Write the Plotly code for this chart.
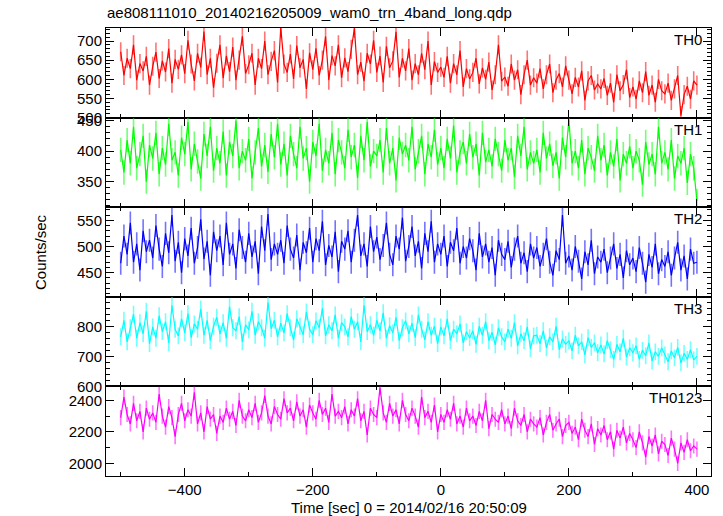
import plotly.graph_objects as go
from plotly.subplots import make_subplots

# time bins (s), 5 s spacing from -500 to 400
time_sec = list(range(-500, 401, 5))

th0 = [672, 610, 655, 628, 690, 598, 641, 622, 660, 585,
       634, 671, 602, 648, 619, 680, 590, 652, 626, 664,
       615, 702, 640, 596, 668, 631, 725, 612, 655, 578,
       642, 690, 603, 661, 620, 684, 598, 650, 712, 615,
       638, 668, 585, 655, 628, 700, 612, 647, 675, 592,
       735, 640, 618, 666, 601, 688, 630, 652, 575, 669,
       625, 681, 610, 650, 712, 598, 662, 635, 690, 604,
       656, 620, 678, 733, 612, 645, 595, 668, 640, 702,
       618, 661, 592, 686, 630, 648, 724, 605, 655, 622,
       680, 598, 641, 612, 668, 625, 700, 585, 646, 618,
       632, 605, 660, 590, 641, 612, 675, 580, 628, 601,
       618, 655, 588, 630, 600, 645, 572, 612, 690, 595,
       606, 582, 640, 598, 625, 560, 612, 650, 585, 604,
       590, 628, 575, 612, 640, 565, 598, 615, 580, 635,
       598, 562, 605, 580, 622, 545, 596, 610, 572, 588,
       575, 602, 558, 590, 540, 612, 570, 586, 625, 552,
       580, 548, 596, 565, 620, 558, 585, 540, 600, 570,
       562, 590, 545, 575, 610, 505, 560, 582, 548, 596,
       585]

th1 = [402, 365, 418, 380, 440, 372, 395, 425, 350, 410,
       388, 430, 362, 405, 378, 445, 385, 398, 360, 422,
       395, 448, 370, 412, 383, 355, 428, 392, 440, 368,
       405, 380, 432, 360, 415, 392, 450, 372, 400, 385,
       420, 355, 398, 438, 375, 410, 366, 428, 390, 445,
       378, 412, 360, 425, 395, 372, 440, 388, 405, 350,
       415, 392, 445, 368, 402, 380, 430, 362, 418, 398,
       372, 435, 390, 410, 356, 425, 385, 448, 375, 400,
       392, 418, 365, 438, 380, 405, 352, 422, 395, 410,
       385, 440, 370, 400, 425, 362, 412, 390, 435, 378,
       405, 372, 420, 388, 442, 365, 398, 415, 380, 428,
       390, 412, 360, 430, 382, 402, 375, 420, 395, 368,
       418, 385, 405, 358, 425, 392, 440, 370, 398, 380,
       402, 365, 430, 388, 412, 376, 398, 355, 422, 390,
       452, 380, 400, 372, 418, 362, 405, 390, 368, 425,
       385, 410, 360, 398, 375, 420, 352, 395, 380, 408,
       372, 400, 385, 345, 415, 378, 395, 362, 440, 380,
       398, 370, 418, 355, 392, 380, 405, 348, 395, 372,
       318]

th2 = [468, 520, 485, 545, 470, 505, 455, 530, 490, 512,
       478, 540, 495, 462, 525, 488, 560, 472, 508, 450,
       515, 482, 535, 468, 498, 552, 476, 510, 445, 528,
       492, 520, 465, 545, 485, 505, 458, 532, 498, 470,
       525, 480, 510, 448, 538, 492, 562, 475, 505, 485,
       512, 468, 540, 495, 478, 522, 455, 508, 488, 535,
       470, 515, 492, 548, 465, 502, 480, 528, 452, 510,
       495, 530, 470, 512, 560, 482, 505, 462, 538, 490,
       518, 475, 502, 545, 485, 465, 520, 495, 555, 472,
       500, 538, 482, 510, 458, 525, 490, 548, 470, 505,
       485, 520, 462, 508, 492, 535, 468, 500, 478, 515,
       492, 455, 525, 480, 505, 470, 498, 445, 512, 485,
       475, 510, 460, 495, 520, 468, 488, 452, 505, 478,
       498, 462, 485, 515, 470, 445, 492, 475, 560, 468,
       482, 455, 500, 472, 438, 490, 465, 512, 448, 480,
       470, 495, 450, 478, 505, 458, 485, 440, 492, 465,
       478, 452, 498, 468, 432, 485, 460, 505, 448, 475,
       462, 490, 445, 478, 508, 455, 482, 438, 495, 468,
       470]

th3 = [765, 820, 748, 795, 840, 760, 812, 775, 850, 742,
       798, 760, 835, 782, 815, 745, 870, 790, 768, 825,
       778, 842, 762, 808, 790, 858, 770, 820, 752, 800,
       830, 775, 812, 760, 865, 795, 785, 832, 748, 805,
       788, 850, 770, 815, 795, 760, 880, 792, 820, 765,
       810, 778, 842, 795, 755, 825, 800, 772, 848, 790,
       772, 818, 795, 860, 768, 805, 785, 838, 760, 812,
       798, 765, 832, 790, 815, 748, 870, 782, 805, 770,
       820, 785, 845, 760, 802, 778, 830, 752, 795, 818,
       775, 810, 762, 838, 790, 755, 815, 770, 800, 742,
       798, 768, 825, 752, 790, 775, 808, 745, 782, 762,
       785, 740, 800, 770, 815, 752, 780, 738, 795, 765,
       748, 790, 760, 812, 735, 775, 752, 798, 725, 768,
       770, 742, 785, 728, 765, 748, 800, 722, 758, 740,
       752, 718, 770, 735, 748, 705, 762, 730, 745, 712,
       738, 708, 752, 722, 690, 740, 715, 760, 698, 728,
       712, 735, 690, 720, 702, 745, 685, 715, 700, 728,
       705, 682, 718, 695, 730, 678, 710, 690, 722, 688,
       700]

th0123 = [2290, 2420, 2310, 2250, 2380, 2270, 2330, 2200, 2350, 2280,
          2320, 2260, 2440, 2300, 2230, 2360, 2290, 2170, 2310, 2380,
          2270, 2340, 2300, 2450, 2250, 2320, 2200, 2360, 2280, 2310,
          2190, 2300, 2260, 2350, 2280, 2330, 2240, 2400, 2300, 2270,
          2340, 2290, 2380, 2260, 2320, 2430, 2300, 2250, 2360, 2310,
          2280, 2410, 2320, 2350, 2270, 2390, 2300, 2340, 2230, 2370,
          2320, 2280, 2400, 2310, 2350, 2260, 2440, 2300, 2330, 2290,
          2360, 2250, 2340, 2300, 2410, 2270, 2330, 2180, 2350, 2310,
          2290, 2480, 2320, 2260, 2380, 2300, 2340, 2250, 2400, 2310,
          2270, 2350, 2300, 2230, 2420, 2290, 2330, 2260, 2370, 2200,
          2310, 2260, 2340, 2280, 2380, 2250, 2300, 2230, 2350, 2270,
          2300, 2240, 2330, 2270, 2400, 2220, 2310, 2280, 2260, 2340,
          2250, 2300, 2220, 2350, 2270, 2240, 2310, 2200, 2280, 2250,
          2230, 2290, 2180, 2260, 2310, 2210, 2250, 2280, 2170, 2240,
          2260, 2190, 2230, 2150, 2280, 2210, 2170, 2250, 2120, 2220,
          2180, 2240, 2150, 2200, 2090, 2210, 2160, 2230, 2130, 2190,
          2150, 2100, 2200, 2130, 2040, 2170, 2110, 2180, 2060, 2140,
          2120, 2050, 2160, 2090, 2000, 2130, 2070, 2150, 2080, 2110,
          2090]

band_names = ["TH0", "TH1", "TH2", "TH3", "TH0123"]
band_values = [th0, th1, th2, th3, th0123]
band_errors = [25, 20, 22, 28, 48]
band_colors = ["#ff0000", "#00ff00", "#0000ff", "#00ffff", "#ff00ff"]
band_err_colors = ["rgba(255,0,0,0.55)", "rgba(0,255,0,0.55)", "rgba(0,0,255,0.55)",
                   "rgba(0,255,255,0.55)", "rgba(255,0,255,0.55)"]
y_ranges = [[500, 734], [308, 455], [404, 575], [600, 898], [1920, 2488]]
y_dticks = [50, 50, 50, 100, 200]
y_minor = [10, 10, 10, 20, 100]
x_tickvals = [-400, -200, 0, 200, 400]

fig = make_subplots(rows=5, cols=1, shared_xaxes=True, vertical_spacing=0)

for i in range(5):
    fig.add_trace(go.Scatter(
        x=time_sec, y=band_values[i], mode="lines",
        line=dict(color=band_colors[i], width=1.2),
        error_y=dict(type="constant", value=band_errors[i], color=band_err_colors[i],
                     thickness=1.6, width=0),
        showlegend=False, hoverinfo="skip"), row=i + 1, col=1)

font_family = "Liberation Sans, Arial, Helvetica, sans-serif"
for i in range(5):
    fig.update_yaxes(row=i + 1, col=1, range=y_ranges[i], dtick=y_dticks[i],
                     ticks="inside", ticklen=8, tickcolor="black", tickwidth=1,
                     showline=True, linecolor="black", linewidth=1, mirror="ticks",
                     showgrid=False, zeroline=False,
                     tickfont=dict(size=15, color="black", family=font_family),
                     minor=dict(dtick=y_minor[i], ticks="inside", ticklen=4,
                                tickcolor="black", showgrid=False))
    fig.update_xaxes(row=i + 1, col=1, range=[-523, 422], tickvals=x_tickvals,
                     ticks="inside", ticklen=8, tickcolor="black", tickwidth=1,
                     showline=True, linecolor="black", linewidth=1, mirror="ticks",
                     showgrid=False, zeroline=False, showticklabels=(i == 4),
                     tickfont=dict(size=15, color="black", family=font_family),
                     minor=dict(dtick=100, ticks="inside", ticklen=4,
                                tickcolor="black", showgrid=False))

for i in range(5):
    top = 1 - 0.2 * i
    fig.add_annotation(text=band_names[i], xref="paper", yref="paper", x=1, y=top,
                       xanchor="right", yanchor="top", xshift=-7, yshift=-1, showarrow=False,
                       font=dict(size=15, color="black", family=font_family))

fig.add_annotation(text="ae808111010_20140216205009_wam0_trn_4band_long.qdp",
                   xref="paper", yref="paper", x=0, y=1, xanchor="left", yanchor="bottom",
                   xshift=-1, yshift=5, showarrow=False,
                   font=dict(size=15, color="black", family=font_family))
fig.add_annotation(text="Counts/sec", xref="paper", yref="paper", x=0, y=0.5,
                   xanchor="center", yanchor="middle", xshift=-66, textangle=-90,
                   showarrow=False, font=dict(size=15, color="black", family=font_family))
fig.add_annotation(text="Time [sec] 0 = 2014/02/16 20:50:09", xref="paper", yref="paper",
                   x=0.5, y=0, xanchor="center", yanchor="middle", yshift=-31,
                   showarrow=False, font=dict(size=15, color="black", family=font_family))

fig.update_layout(width=723, height=516, margin=dict(l=106, r=12, t=28, b=40),
                  paper_bgcolor="white", plot_bgcolor="white",
                  font=dict(family=font_family, color="black"))

fig.write_html("out.html", config={"displayModeBar": False},
               post_script="document.body.style.margin='0';")
